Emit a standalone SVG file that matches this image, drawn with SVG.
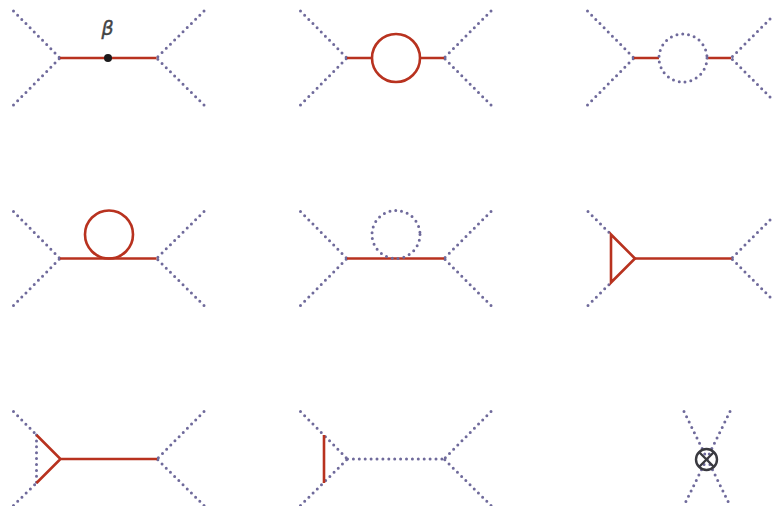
<svg xmlns="http://www.w3.org/2000/svg" width="772" height="506" viewBox="0 0 772 506">
<style>
.d{fill:none;stroke:#6f6a9b;stroke-width:3;stroke-linecap:round;stroke-dasharray:0 5.9}
.r{fill:none;stroke:#b8321f;stroke-width:2.6;stroke-linejoin:miter}
.k{fill:none;stroke:#3a3a40;stroke-width:2.4}
text{font-family:"DejaVu Sans","Liberation Sans",sans-serif;font-style:italic;font-size:19px;fill:#444;stroke:#444;stroke-width:.4;text-anchor:middle}
</style>
<rect width="772" height="506" fill="#fff"/>
<g id="connectors">
<path class="d" d="M13.500 11L60 58M13.500 105L60 58M204 11L156.500 58M204 105L156.500 58"/>
<path class="r" d="M60 58H156.500"/>
<path class="d" d="M300.500 11L347 58M300.500 105L347 58M491 11L444 58M491 105L444 58"/>
<path class="r" d="M347 58H372M420 58H444"/>
<path class="d" d="M587.500 11L634 58M587.500 105L634 58M770 19L731 58M770 97L731 58"/>
<path class="r" d="M634 58H659M707 58H731"/>
<path class="d" d="M13.500 211.500L60 258.500M13.500 305.500L60 258.500M204 211.500L156.500 258.500M204 305.500L156.500 258.500"/>
<path class="r" d="M60 258.500H156.500"/>
<path class="d" d="M300.500 211.500L347 258.500M300.500 305.500L347 258.500M491 211.500L444 258.500M491 305.500L444 258.500"/>
<path class="r" d="M347 258.500H444"/>
<path class="d" d="M588 211.500L611 234.500M588 305.500L611 282.500M770 220L731.500 258.500M770 297L731.500 258.500"/>
<path class="r" d="M635 258.500H731.500"/>
<path class="d" d="M13.500 411.500L36.500 435M13.500 505.500L36.500 483M204 411.500L157 459M204 505.500L157 459"/>
<path class="d" d="M36.500 435V483"/>
<path class="r" d="M36.500 435L60.500 459L36.500 483M60.500 459H157"/>
<path class="d" d="M300.500 411.500L347.500 459M300.500 505.500L347.500 459M491 411.500L444 459M491 505.500L444 459M347.500 459H444"/>
<path class="r" d="M324 435V483"/>
<path class="d" d="M730 411.500L684 505.500M684 411.500L730 505.500"/>
</g>
<g id="node-vertex"><circle cx="108" cy="58" r="4" fill="#1c1a1c"/></g>
<g id="label-beta"><text x="107.500" y="35">β</text></g>
<g id="node-loop-1"><circle class="r" cx="396" cy="58" r="24"/></g>
<g id="node-loop-2"><circle class="d" cx="683" cy="58" r="24"/></g>
<g id="node-loop-3"><circle class="r" cx="109" cy="234.500" r="24"/></g>
<g id="node-loop-4"><circle class="d" cx="396" cy="234.500" r="24"/></g>
<g id="node-triangle"><path class="r" d="M611 234.500L635 258.500L611 282.500Z"/></g>
<g id="node-cross"><circle class="k" cx="706.500" cy="459.500" r="10.500"/><path class="k" d="M699 452L714 467M714 452L699 467"/></g>
</svg>
